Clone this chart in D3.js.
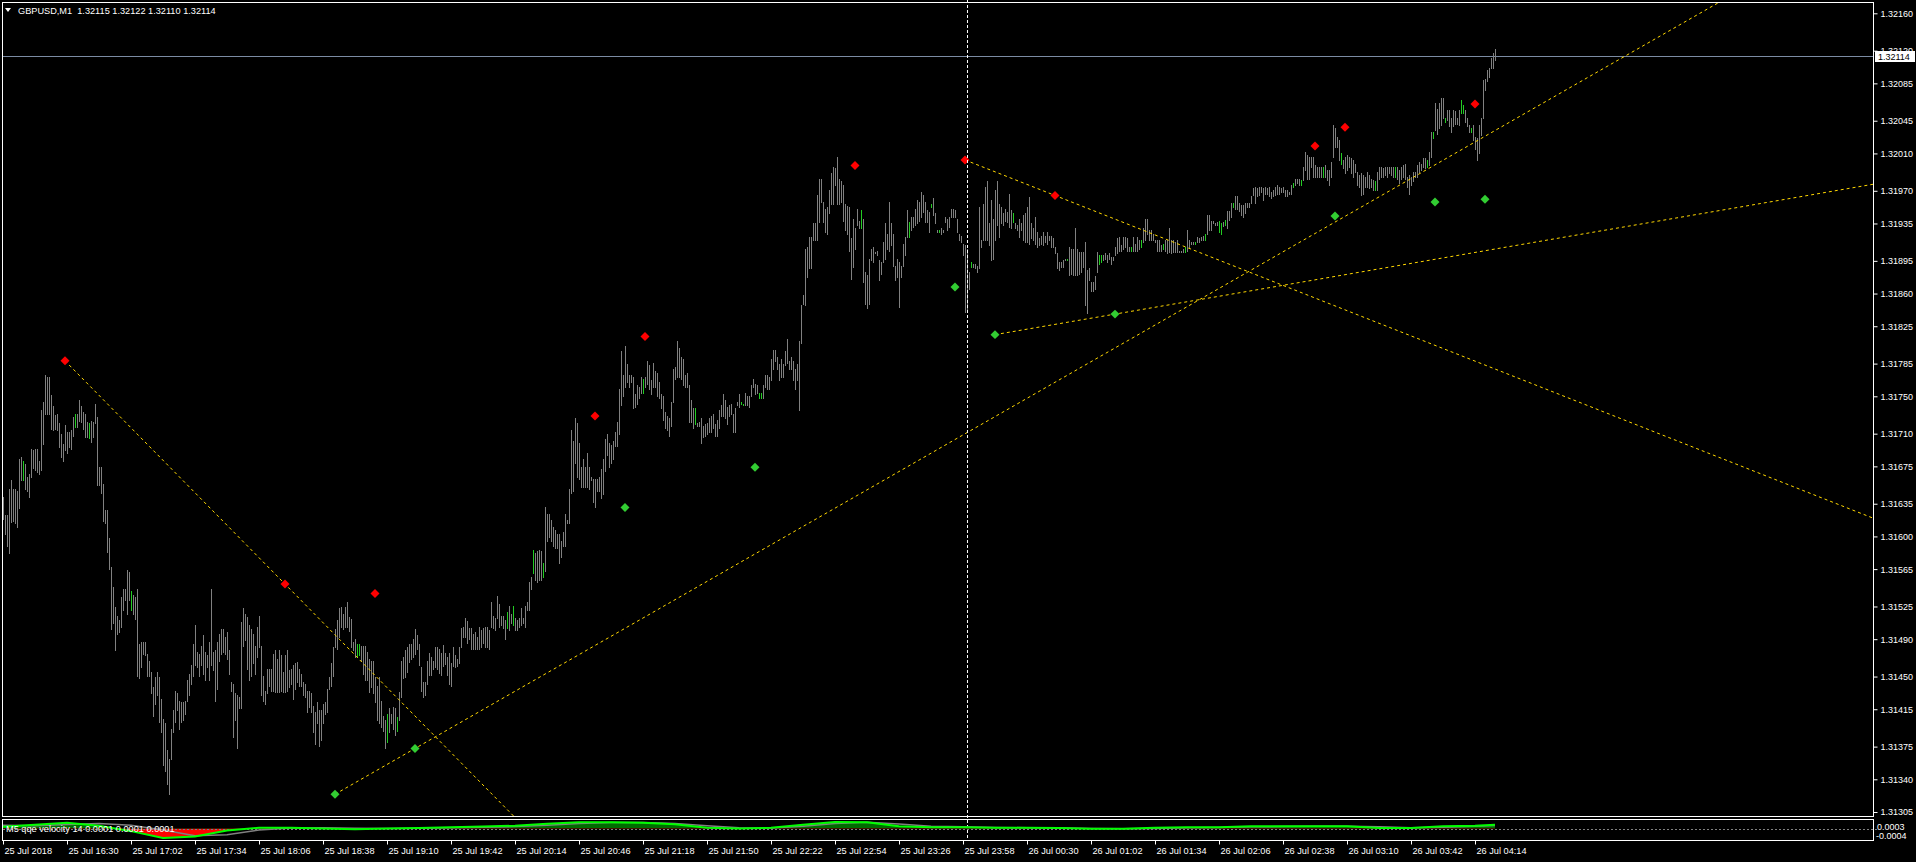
<!DOCTYPE html>
<html><head><meta charset="utf-8">
<script src="https://cdn.jsdelivr.net/npm/d3@7"></script>
<style>html,body{margin:0;padding:0;background:#000;overflow:hidden}svg{display:block}</style>
</head><body>
<svg id="c" width="1916" height="862"></svg>
<script>
// ---------- DATA (prices stored in points of 0.00001 above 1.30000) ----------
const PRICE_BASE = 1.30000, POINT = 0.00001;
const symbolTitle = "GBPUSD,M1  1.32115 1.32122 1.32110 1.32114";
const indicatorTitle = "M5  qqe velocity 14 0.0001 0.0001 0.0001";
const currentPrice = 1.32114;

const barHigh = [
1642,1623,1623,1651,1660,1651,1651,1649,1683,1685,1681,1678,1664,1667,1694,1692,1694,1694,1681,1735,
1744,1773,1771,1771,1751,1740,1730,1731,1721,1710,1699,1719,1712,1712,1714,1728,1731,1731,1746,1740,
1733,1731,1723,1721,1724,1723,1742,1728,1674,1674,1656,1628,1628,1598,1567,1546,1524,1515,1510,1535,
1544,1544,1564,1562,1542,1537,1535,1544,1485,1487,1487,1487,1474,1467,1455,1439,1449,1455,1449,1426,
1405,1400,1371,1362,1394,1414,1435,1432,1424,1423,1423,1424,1446,1453,1462,1485,1505,1476,1474,1483,
1494,1476,1473,1487,1544,1476,1478,1487,1496,1501,1501,1492,1498,1478,1444,1442,1432,1430,1428,1508,
1523,1517,1514,1505,1501,1496,1483,1503,1515,1483,1451,1435,1458,1458,1458,1474,1478,1469,1478,1473,
1455,1473,1478,1457,1458,1462,1464,1466,1458,1453,1444,1442,1435,1435,1432,1419,1412,1423,1414,1414,
1421,1423,1437,1449,1464,1482,1501,1510,1523,1524,1517,1524,1530,1514,1512,1487,1490,1485,1485,1483,
1483,1483,1476,1469,1467,1467,1449,1440,1449,1424,1408,1403,1410,1416,1410,1417,1416,1407,1433,1467,
1471,1478,1482,1485,1485,1490,1501,1494,1485,1460,1444,1444,1467,1475,1471,1467,1482,1482,1479,1475,
1484,1475,1471,1475,1465,1482,1473,1469,1482,1502,1503,1513,1509,1502,1502,1496,1498,1492,1503,1500,
1502,1503,1503,1500,1530,1515,1513,1536,1528,1515,1515,1511,1519,1526,1517,1526,1513,1511,1513,1523,
1513,1526,1530,1551,1557,1586,1582,1584,1586,1584,1572,1632,1624,1624,1618,1610,1607,1603,1603,1595,
1605,1624,1618,1651,1714,1702,1727,1721,1700,1674,1683,1674,1689,1674,1664,1662,1662,1662,1664,1672,
1683,1704,1710,1700,1698,1702,1712,1723,1758,1798,1773,1804,1785,1773,1773,1771,1752,1762,1760,1771,
1769,1771,1788,1783,1767,1786,1777,1775,1765,1752,1750,1733,1729,1727,1744,1779,1781,1809,1802,1792,
1790,1773,1775,1762,1746,1737,1737,1721,1723,1727,1718,1720,1721,1727,1729,1731,1720,1725,1735,1741,
1752,1746,1739,1741,1742,1731,1737,1744,1752,1744,1742,1754,1750,1750,1762,1769,1763,1762,1754,1754,
1762,1773,1773,1771,1790,1800,1800,1792,1785,1790,1785,1798,1811,1788,1792,1788,1779,1785,1809,1848,
1858,1908,1910,1921,1921,1935,1935,1965,1983,1983,1958,1951,1953,1971,1989,1996,1994,2006,1983,1981,
1976,1956,1954,1953,1919,1940,1930,1951,1938,1949,1940,1883,1880,1897,1908,1910,1905,1906,1896,1894,
1915,1935,1924,1958,1935,1924,1890,1897,1894,1890,1913,1921,1949,1937,1942,1942,1951,1960,1958,1969,
1965,1958,1949,1947,1956,1962,1946,1928,1928,1930,1928,1942,1940,1942,1951,1951,1949,1940,1924,1922,
1913,1912,1908,1883,1894,1892,1892,1890,1953,1917,1956,1974,1981,1935,1960,1940,1971,1980,1956,1953,
1946,1951,1947,1967,1949,1946,1935,1933,1940,1935,1944,1946,1953,1963,1935,1930,1942,1926,1919,1922,
1926,1922,1926,1922,1922,1919,1910,1903,1894,1894,1896,1897,1897,1910,1908,1908,1930,1908,1905,1905,
1905,1915,1885,1887,1872,1872,1879,1905,1901,1901,1901,1903,1901,1903,1899,1899,1910,1919,1921,1912,
1921,1921,1919,1910,1910,1921,1913,1921,1917,1917,1930,1940,1940,1928,1928,1924,1917,1917,1917,1912,
1913,1917,1917,1930,1917,1917,1915,1917,1906,1906,1908,1910,1928,1917,1915,1915,1915,1921,1919,1921,
1922,1924,1944,1944,1938,1938,1935,1937,1938,1935,1937,1939,1948,1948,1957,1957,1964,1964,1957,1955,
1955,1957,1957,1957,1964,1973,1974,1973,1974,1974,1973,1974,1973,1974,1969,1971,1974,1976,1974,1973,
1974,1971,1971,1969,1976,1978,1983,1983,1983,1982,1996,2012,2008,2006,2006,2006,1998,1996,1996,1996,
1996,1998,1992,1992,2001,2040,2037,2028,2024,2010,2003,2006,2008,2006,2005,2003,1999,1990,1987,1989,
1987,1985,1990,1987,1983,1982,1980,1990,1996,1996,1994,1996,1996,1996,1996,1996,1996,1996,1992,1996,
1998,1999,1985,1987,1985,1990,1990,1998,2001,1999,2005,2005,2003,2012,2033,2033,2064,2058,2064,2069,
2069,2048,2056,2056,2048,2056,2055,2048,2056,2067,2062,2056,2048,2040,2037,2040,2028,2026,2040,2048,
2089,2090,2099,2101,2112,2117,2122];

const barLow = [
1619,1603,1590,1582,1615,1617,1614,1610,1630,1660,1660,1651,1649,1642,1664,1673,1671,1669,1667,1671,
1699,1731,1731,1731,1715,1714,1715,1714,1696,1685,1681,1692,1689,1696,1694,1708,1717,1717,1724,1723,
1715,1706,1706,1705,1701,1706,1721,1655,1655,1646,1617,1614,1583,1565,1501,1507,1478,1496,1498,1503,
1521,1532,1517,1532,1521,1517,1512,1451,1448,1460,1474,1473,1451,1451,1432,1408,1421,1430,1401,1391,
1355,1349,1335,1324,1362,1391,1401,1414,1394,1401,1403,1410,1424,1430,1442,1451,1462,1460,1451,1462,
1453,1446,1460,1446,1462,1457,1424,1437,1467,1474,1476,1474,1469,1453,1435,1385,1403,1374,1416,1416,
1483,1489,1458,1446,1451,1465,1453,1471,1482,1430,1424,1421,1432,1440,1435,1435,1433,1433,1433,1435,
1433,1433,1435,1439,1442,1426,1437,1444,1440,1440,1430,1428,1412,1417,1412,1391,1378,1400,1376,1382,
1400,1410,1412,1437,1440,1451,1482,1480,1492,1503,1501,1503,1503,1499,1482,1478,1471,1471,1473,1467,
1453,1446,1446,1433,1439,1432,1423,1403,1400,1396,1392,1373,1380,1391,1400,1394,1387,1392,1403,1428,
1448,1449,1455,1466,1469,1471,1474,1480,1462,1435,1428,1430,1442,1452,1452,1458,1460,1458,1454,1452,
1461,1463,1452,1442,1440,1461,1460,1461,1465,1482,1492,1492,1486,1490,1480,1480,1479,1479,1480,1482,
1486,1482,1482,1480,1503,1502,1500,1513,1503,1505,1502,1490,1502,1500,1507,1505,1500,1500,1503,1505,
1507,1503,1521,1521,1544,1561,1553,1551,1553,1553,1557,1563,1595,1599,1595,1590,1588,1588,1572,1578,
1590,1590,1614,1614,1647,1649,1679,1664,1662,1653,1653,1653,1653,1651,1660,1637,1632,1649,1649,1641,
1645,1670,1687,1674,1679,1683,1697,1697,1710,1741,1750,1760,1765,1760,1765,1737,1739,1742,1748,1754,
1754,1760,1763,1758,1752,1760,1760,1750,1748,1737,1725,1716,1714,1708,1718,1744,1769,1771,1771,1769,
1762,1760,1760,1723,1723,1716,1720,1718,1718,1700,1706,1708,1710,1712,1712,1716,1708,1708,1716,1729,
1729,1727,1720,1729,1731,1712,1712,1741,1739,1742,1741,1741,1741,1739,1750,1760,1752,1754,1748,1748,
1748,1760,1758,1758,1767,1779,1788,1779,1767,1771,1771,1783,1786,1779,1779,1767,1758,1767,1735,1807,
1849,1848,1878,1887,1887,1917,1917,1917,1937,1958,1937,1926,1924,1946,1956,1956,1976,1956,1956,1958,
1938,1928,1924,1906,1876,1888,1908,1933,1930,1930,1872,1849,1844,1849,1896,1894,1903,1901,1874,1881,
1894,1897,1908,1906,1912,1890,1874,1878,1846,1878,1890,1901,1921,1921,1928,1931,1933,1935,1938,1942,
1947,1937,1937,1926,1953,1944,1935,1926,1926,1924,1926,1937,1928,1931,1942,1942,1942,1926,1917,1915,
1901,1840,1842,1865,1888,1888,1887,1883,1887,1910,1917,1917,1917,1912,1896,1897,1917,1933,1921,1935,
1933,1938,1937,1931,1930,1937,1930,1928,1921,1928,1917,1915,1915,1913,1919,1917,1913,1910,1912,1913,
1912,1915,1913,1917,1910,1910,1903,1887,1885,1888,1888,1896,1896,1880,1881,1880,1880,1880,1881,1883,
1888,1848,1839,1874,1863,1863,1865,1883,1892,1894,1896,1897,1894,1897,1892,1896,1901,1903,1906,1906,
1908,1910,1906,1906,1906,1906,1906,1906,1908,1910,1915,1917,1924,1917,1917,1917,1915,1906,1906,1906,
1908,1906,1903,1904,1903,1904,1904,1904,1904,1904,1904,1904,1906,1910,1913,1913,1913,1915,1915,1917,
1917,1917,1924,1928,1928,1935,1933,1933,1926,1924,1932,1933,1930,1939,1942,1953,1951,1951,1948,1944,
1942,1946,1953,1953,1957,1965,1957,1964,1965,1969,1960,1967,1967,1964,1962,1964,1965,1967,1967,1969,
1969,1964,1964,1967,1967,1974,1976,1978,1976,1976,1982,1992,1983,1983,1996,1985,1985,1985,1985,1985,
1985,1985,1982,1976,1985,2006,2017,2017,2003,1999,1994,1989,1992,1996,1989,1985,1990,1976,1974,1965,
1967,1974,1974,1973,1974,1971,1971,1971,1983,1985,1985,1987,1985,1989,1987,1985,1985,1983,1978,1983,
1985,1983,1974,1967,1976,1980,1985,1985,1990,1992,1996,1994,1996,1998,2006,2026,2035,2031,2037,2040,
2048,2044,2046,2039,2033,2039,2042,2042,2040,2053,2053,2044,2039,2033,2033,2024,2015,2003,2010,2030,
2048,2078,2087,2092,2101,2101,2110];

const greenBars = [10,36,43,64,177,178,192,197,252,255,265,270,320,346,369,370,378,379,429,453,464,468,
  484,505,532,548,549,564,569,580,591,596,601,608,609,611,615,645,649,660,669,686,696,712,715,721,729,730,734];

// arrow markers: [bar index, price points]
const redMarkers = [[31,1788],[141,1549],[186,1539],[296,1729],[321,1814],[426,1997],[481,2003],[526,1965],[656,2018],[671,2038],[736,2063]];
const greenMarkers = [[166,1324],[206,1373],[311,1631],[376,1674],[476,1867],[496,1816],[556,1838],[666,1943],[716,1958],[741,1961]];

// trend lines: [bar1, pts1, bar2, pts2] (rays extended beyond the 2nd point)
const trendLines = [[31,1788,141,1549],[166,1324,206,1373],[481,2003,526,1965],[496,1816,556,1838]];
const vlineBar = 482;

const priceTicks = [1.32160,1.32120,1.32085,1.32045,1.32010,1.31970,1.31935,1.31895,1.31860,1.31825,1.31785,1.31750,
  1.31710,1.31675,1.31635,1.31600,1.31565,1.31525,1.31490,1.31450,1.31415,1.31375,1.31340,1.31305];
const timeTickBars = [0,32,64,96,128,160,192,224,256,288,320,352,384,416,448,480,512,544,576,608,640,672,704,736];
const timeTickLabels = ["25 Jul 2018","25 Jul 16:30","25 Jul 17:02","25 Jul 17:34","25 Jul 18:06","25 Jul 18:38",
  "25 Jul 19:10","25 Jul 19:42","25 Jul 20:14","25 Jul 20:46","25 Jul 21:18","25 Jul 21:50","25 Jul 22:22",
  "25 Jul 22:54","25 Jul 23:26","25 Jul 23:58","26 Jul 00:30","26 Jul 01:02","26 Jul 01:34","26 Jul 02:06",
  "26 Jul 02:38","26 Jul 03:10","26 Jul 03:42","26 Jul 04:14"];

// indicator (values in 0.00001)
const indBars = [0,16,32,48,64,80,96,112,128,144,160,176,192,208,224,240,256,272,288,304,320,336,352,368,384,400,
  416,432,448,464,480,496,512,528,544,560,576,592,608,624,640,656,672,688,704,720,736,746];
const indMain = [6,13,20,10,-9,-33,-28,-7,3,3,0,-2,0,2,5,7,10,17,22,22,20,15,3,0,3,13,23,22,8,5,5,3,3,2,-1,-1,3,5,5,8,8,8,8,2,2,8,10,13];
const indSignal = [12,10,14,18,12,-5,-25,-22,-5,2,3,1,0,1,3,5,7,12,18,21,21,18,10,3,2,8,18,22,16,8,6,4,3,3,0,-1,0,3,4,6,7,8,8,6,3,5,8,11];
const indMax = 0.0003, indMin = -0.0004;

// ---------- LAYOUT ----------
const W = 1916, H = 862;
const L = 2.5, R = 1873.5, T = 2.5, B = 816.5;   // main panel frame
const IT = 819.5, IB = 840.5;                      // indicator frame
const FONT = "'Liberation Sans', Arial, sans-serif";
const svg = d3.select("#c");
svg.append("rect").attr("width", W).attr("height", H).attr("fill", "#000");

const x = d3.scaleLinear().domain([0, 935]).range([3, 1873]);
const y = d3.scaleLinear().domain([1.31305, 1.32160]).range([812, 13.3]);
const iy = d3.scaleLinear().domain([indMin, indMax]).range([840, 820]);
const P = v => PRICE_BASE + v * POINT;

const defs = svg.append("defs");
defs.append("clipPath").attr("id", "mainClip").append("rect").attr("x", 3).attr("y", 3).attr("width", 1870).attr("height", 813);
defs.append("clipPath").attr("id", "posClip").append("rect").attr("x", 3).attr("y", 820).attr("width", 1870).attr("height", iy(0) - 820);
defs.append("clipPath").attr("id", "negClip").append("rect").attr("x", 3).attr("y", iy(0)).attr("width", 1870).attr("height", 840 - iy(0));

// frames
svg.append("rect").attr("x", L).attr("y", T).attr("width", R - L).attr("height", B - T)
  .attr("fill", "none").attr("stroke", "#fff").attr("stroke-width", 1);
svg.append("rect").attr("x", L).attr("y", IT).attr("width", R - L).attr("height", IB - IT)
  .attr("fill", "none").attr("stroke", "#fff").attr("stroke-width", 1);

const main = svg.append("g").attr("clip-path", "url(#mainClip)");

// current price line
main.append("line").attr("x1", 3).attr("x2", 1873)
  .attr("y1", Math.round(y(currentPrice)) + 0.5).attr("y2", Math.round(y(currentPrice)) + 0.5)
  .attr("stroke", "#7b8ba3").attr("stroke-width", 1);

// bars
const greenSet = new Set(greenBars);
main.append("g").selectAll("rect").data(barHigh).join("rect")
  .attr("x", (d, i) => Math.round(x(i)))
  .attr("width", 1)
  .attr("y", d => Math.round(y(P(d))))
  .attr("height", (d, i) => Math.max(1, Math.round(y(P(barLow[i]))) - Math.round(y(P(d))) + 1))
  .attr("fill", (d, i) => greenSet.has(i) ? "#22cc22" : "#808080")
  .attr("shape-rendering", "crispEdges");

// trend lines
trendLines.forEach(([b1, p1, b2, p2]) => {
  const slope = (p2 - p1) / (b2 - b1);
  const bEnd = 1400;
  main.append("line")
    .attr("x1", x(b1)).attr("y1", y(P(p1)))
    .attr("x2", x(bEnd)).attr("y2", y(P(p1 + slope * (bEnd - b1))))
    .attr("stroke", "#ffd700").attr("stroke-width", 1).attr("stroke-dasharray", "3,3");
});

// markers
const diamond = d3.symbol(d3.symbolSquare, 40);
main.append("g").selectAll("path.r").data(redMarkers).join("path")
  .attr("d", diamond).attr("fill", "#ff0000")
  .attr("transform", d => `translate(${x(d[0])},${y(P(d[1]))}) rotate(45)`);
main.append("g").selectAll("path.g").data(greenMarkers).join("path")
  .attr("d", diamond).attr("fill", "#32cd32")
  .attr("transform", d => `translate(${x(d[0])},${y(P(d[1]))}) rotate(45)`);

// vertical dashed line
svg.append("line").attr("x1", Math.round(x(vlineBar)) + 0.5).attr("x2", Math.round(x(vlineBar)) + 0.5)
  .attr("y1", 0).attr("y2", 841).attr("stroke", "#fff").attr("stroke-width", 1).attr("stroke-dasharray", "3,2");

// indicator
const indData = indBars.map((b, k) => ({ b, m: indMain[k] * POINT, s: indSignal[k] * POINT }));
const area = d3.area().x(d => x(d.b)).y0(iy(0)).y1(d => iy(d.m));
svg.append("path").datum(indData).attr("d", area).attr("fill", "#006d00").attr("clip-path", "url(#posClip)");
svg.append("path").datum(indData).attr("d", area).attr("fill", "#ff0000").attr("clip-path", "url(#negClip)");
svg.append("line").attr("x1", 3).attr("x2", 1877).attr("y1", Math.round(iy(0)) + 0.5).attr("y2", Math.round(iy(0)) + 0.5)
  .attr("stroke", "#808080").attr("stroke-dasharray", "2,2");
svg.append("path").datum(indData).attr("d", d3.line().x(d => x(d.b)).y(d => iy(d.s)))
  .attr("fill", "none").attr("stroke", "#808080").attr("stroke-width", 1.5);
svg.append("path").datum(indData).attr("d", d3.line().x(d => x(d.b)).y(d => iy(d.m)))
  .attr("fill", "none").attr("stroke", "#00ff00").attr("stroke-width", 2);

svg.append("text").attr("x", 6).attr("y", 832).attr("fill", "#fff").attr("font-family", FONT)
  .attr("font-size", "9.2px").text(indicatorTitle);
svg.append("text").attr("x", 1877).attr("y", 830).attr("fill", "#fff").attr("font-family", FONT)
  .attr("font-size", "9px").text(d3.format(".4f")(indMax));
svg.append("text").attr("x", 1876).attr("y", 838.5).attr("fill", "#fff").attr("font-family", FONT)
  .attr("font-size", "9px").text(d3.format(".4f")(indMin).replace("−", "-"));

// price axis
const yAxis = svg.append("g").attr("transform", `translate(${R},0)`)
  .call(d3.axisRight(y).tickValues(priceTicks).tickSize(4).tickPadding(3).tickFormat(d3.format(".5f")));
yAxis.select(".domain").remove();
yAxis.selectAll("line").attr("stroke", "#fff");
yAxis.selectAll("text").attr("fill", "#fff").attr("font-family", FONT).attr("font-size", "9px");

// current price box
const cpY = y(currentPrice);
svg.append("rect").attr("x", 1875).attr("y", Math.round(cpY) - 5).attr("width", 40).attr("height", 11).attr("fill", "#fff");
svg.append("text").attr("x", 1878).attr("y", Math.round(cpY) + 3.5).attr("fill", "#000").attr("font-family", FONT)
  .attr("font-size", "9px").text(d3.format(".5f")(currentPrice));

// time axis
const xAxis = svg.append("g").attr("transform", `translate(0,${IB})`)
  .call(d3.axisBottom(x).tickValues(timeTickBars).tickSize(4).tickPadding(3).tickFormat((d, k) => timeTickLabels[k]));
xAxis.select(".domain").remove();
xAxis.selectAll("line").attr("stroke", "#fff");
xAxis.selectAll("text").attr("fill", "#fff").attr("font-family", FONT).attr("font-size", "9.2px")
  .attr("text-anchor", "start").attr("dx", "1");

// title
svg.append("path").attr("d", "M5,8 L11,8 L8,12 Z").attr("fill", "#fff");
svg.append("text").attr("x", 18).attr("y", 14).attr("fill", "#fff").attr("font-family", FONT)
  .attr("font-size", "9.2px").attr("xml:space", "preserve").style("white-space", "pre").text(symbolTitle);
</script>
</body></html>
